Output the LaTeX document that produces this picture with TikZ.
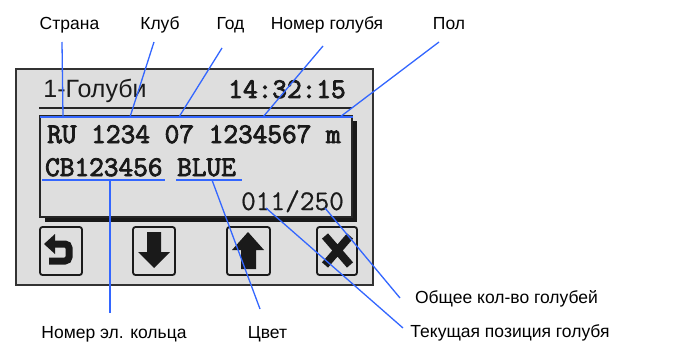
\documentclass[tikz,border=0pt]{standalone}
\usepackage{fontspec}
\setmainfont{Liberation Sans}
\newfontfamily\lcdheavy{Latin Modern Mono}[FakeBold=3]
\newfontfamily\lcdlight{Latin Modern Mono}[FakeBold=0.6]
\definecolor{lcd}{HTML}{DEDEDE}
\definecolor{lead}{HTML}{3366FF}
\definecolor{ink}{HTML}{1A1A1A}
\begin{document}
\begin{tikzpicture}[x=1pt,y=-1pt,
  lbl/.style={anchor=base,inner sep=0pt,font=\fontsize{17.5}{20}\selectfont},
  lcdbold/.style={anchor=base,inner sep=0pt,text=ink,font=\lcdheavy\fontsize{28.5}{30}\selectfont},
  lcdreg/.style={anchor=base,inner sep=0pt,text=ink,font=\lcdlight\fontsize{28.5}{30}\selectfont},
  lcdsans/.style={anchor=base,inner sep=0pt,text=ink,font=\fontsize{25}{30}\selectfont},
  leader/.style={draw=lead,line width=1.3pt},
  btnframe/.style={draw=ink,line width=1.8pt,rounded corners=2.5pt},
  icon/.style={fill=ink}]
\useasboundingbox (0,0) rectangle (677,342);
% LCD body
\draw[line width=2pt,draw=black!80,fill=lcd] (16,69) rectangle (373,285);
\node[lcdsans] (title) at (95,98) {1-Голуби};
\node[lcdbold] (clock) at (287,98) {14:32:15};
\draw[line width=1.5pt,draw=black!85] (39,108) -- (352,108);
% inner box with shadow
\fill[black!90] (45,121) rectangle (357,222);
\draw[line width=1.2pt,draw=black!85,fill=lcd] (40,116) rectangle (352,217);
\node[lcdbold] (row1) at (194,143) {RU 1234 07 1234567 m};
\node[lcdbold] (row2) at (140.5,176) {CB123456 BLUE};
\node[lcdreg] (row3) at (292.5,210) {011/250};
% buttons
\draw[btnframe] (40,227) rectangle (82,275);
\draw[btnframe] (133,227) rectangle (175,275);
\draw[btnframe] (227,227) rectangle (270,275);
\draw[btnframe] (317,227) rectangle (357,275);
% icons
\fill[icon] (44,244) -- (55,234) -- (55,254) -- cycle;
\draw[draw=ink,line width=7pt,rounded corners=4pt] (54,244) -- (69,244) -- (69,261) -- (49,261);
\fill[icon] (147,232) -- (161,232) -- (161,252) -- (170,252) -- (154,268) -- (138,252) -- (147,252) -- cycle;
\fill[icon] (248,232) -- (264,250) -- (256,250) -- (256,269) -- (241,269) -- (241,250) -- (232,250) -- cycle;
\draw[draw=ink,line width=8pt] (325,236) -- (350,265) (350,236) -- (325,265);
% blue marks
\draw[leader] (40,117) -- (353,117);
\draw[leader] (42,180) -- (165,180);
\draw[leader] (176,180) -- (242,180);
% labels
\node[lbl] (lStrana) at (69.5,30) {Страна};
\node[lbl] (lKlub) at (160,30) {Клуб};
\node[lbl] (lGod) at (230.5,30) {Год};
\node[lbl] (lNomer) at (327,30) {Номер голубя};
\node[lbl] (lPol) at (449,30) {Пол};
\node[lbl] (lKolco) at (114,338) {Номер эл. кольца};
\node[lbl] (lCvet) at (267.5,338) {Цвет};
\node[lbl] (lObsh) at (506.5,303) {Общее кол-во голубей};
\node[lbl] (lTek) at (510,337) {Текущая позиция голубя};
% leader end points
\coordinate (aStrana) at (62,42);   \coordinate (bStrana) at (63,117);
\coordinate (aKlub) at (154,42);    \coordinate (bKlub) at (130,117);
\coordinate (aGod) at (222,48);     \coordinate (bGod) at (179,117);
\coordinate (aNomer) at (323,46);   \coordinate (bNomer) at (263,117);
\coordinate (aPol) at (439,42);     \coordinate (bPol) at (340,117);
\coordinate (aKolco) at (110,313);  \coordinate (bKolco) at (110,180);
\coordinate (aCvet) at (260,309);   \coordinate (bCvet) at (212,180);
\coordinate (aObsh) at (400,298);   \coordinate (bObsh) at (325,208);
\coordinate (aTek) at (403,328);    \coordinate (bTek) at (266,208);
\draw[leader] (aStrana) -- (bStrana);
\draw[leader] (aKlub) -- (bKlub);
\draw[leader] (aGod) -- (bGod);
\draw[leader] (aNomer) -- (bNomer);
\draw[leader] (aPol) -- (bPol);
\draw[leader] (aKolco) -- (bKolco);
\draw[leader] (aCvet) -- (bCvet);
\draw[leader] (aObsh) -- (bObsh);
\draw[leader] (aTek) -- (bTek);
\end{tikzpicture}
\end{document}
